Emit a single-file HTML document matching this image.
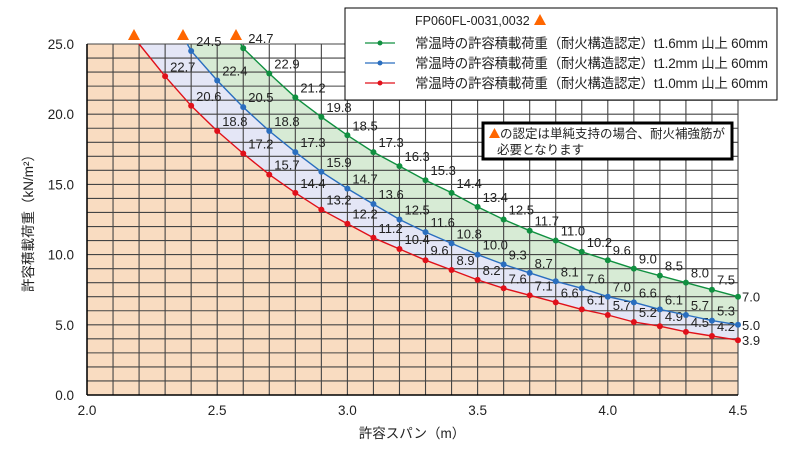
<!DOCTYPE html>
<html><head><meta charset="utf-8"><style>
html,body{margin:0;padding:0;background:#fff;}
svg{display:block;font-family:"Liberation Sans","Noto Sans CJK JP",sans-serif;}
</style></head><body>
<svg id="s" width="800" height="449" viewBox="0 0 800 449" xmlns="http://www.w3.org/2000/svg"></svg>
<script>
const X0=87,XS=260.4,Y0=395,YS=14.04;
const px=x=>X0+(x-2)*XS, py=y=>Y0-y*YS;
const red=[[2.2,25.0],[2.3,22.7],[2.4,20.6],[2.5,18.8],[2.6,17.2],[2.7,15.7],[2.8,14.4],[2.9,13.2],[3.0,12.2],[3.1,11.2],[3.2,10.4],[3.3,9.6],[3.4,8.9],[3.5,8.2],[3.6,7.6],[3.7,7.1],[3.8,6.6],[3.9,6.1],[4.0,5.7],[4.1,5.2],[4.2,4.9],[4.3,4.5],[4.4,4.2],[4.5,3.9]];
const blue=[[2.385,25.0],[2.4,24.5],[2.5,22.4],[2.6,20.5],[2.7,18.8],[2.8,17.3],[2.9,15.9],[3.0,14.7],[3.1,13.6],[3.2,12.5],[3.3,11.6],[3.4,10.8],[3.5,10.0],[3.6,9.3],[3.7,8.7],[3.8,8.1],[3.9,7.6],[4.0,7.0],[4.1,6.6],[4.2,6.1],[4.3,5.7],[4.4,5.3],[4.5,5.0]];
const green=[[2.59,25.0],[2.6,24.7],[2.7,22.9],[2.8,21.2],[2.9,19.8],[3.0,18.5],[3.1,17.3],[3.2,16.3],[3.3,15.3],[3.4,14.4],[3.5,13.4],[3.6,12.5],[3.7,11.7],[3.8,11.0],[3.9,10.2],[4.0,9.6],[4.1,9.0],[4.2,8.5],[4.3,8.0],[4.4,7.5],[4.5,7.0]];
let h='';
const pts=a=>a.map(p=>px(p[0]).toFixed(1)+','+py(p[1]).toFixed(1)).join(' ');
h+=`<polygon points="${px(2)},${py(25)} ${pts(red)} ${px(4.5)},${Y0} ${px(2)},${Y0}" fill="#f9dcc1"/>`;
h+=`<polygon points="${pts(red)} ${pts(blue.slice().reverse())}" fill="#e4e6f6"/>`;
h+=`<polygon points="${pts(blue)} ${pts(green.slice().reverse())}" fill="#d7ebd5"/>`;
for(let i=0;i<=25;i++){const x=px(2+i*0.1);h+=`<line x1="${x}" y1="${py(25)}" x2="${x}" y2="${Y0}" stroke="#444" stroke-width="1.1"/>`;}
for(let j=0;j<=25;j++){const y=py(j);h+=`<line x1="${X0}" y1="${y}" x2="${px(4.5)}" y2="${y}" stroke="#444" stroke-width="1.1"/>`;}
h+=`<line x1="${X0}" y1="${py(25)}" x2="${X0}" y2="${Y0}" stroke="#000" stroke-width="1.5"/>`;
h+=`<line x1="${X0}" y1="${Y0}" x2="${px(4.5)}" y2="${Y0}" stroke="#000" stroke-width="1.5"/>`;
const ser=(a,c)=>{h+=`<polyline points="${pts(a)}" fill="none" stroke="${c}" stroke-width="1.4"/>`;
 a.forEach((p,i)=>{if(i==0)return;const x=px(p[0]),y=py(p[1]);h+=`<circle cx="${x}" cy="${y}" r="3" fill="${c}"/>`;
 let tx=x+5,ty=y-5;if(p[0]==4.5){tx=x+4;ty=y+5;}
 h+=`<text x="${tx}" y="${ty}" font-size="13" fill="#222">${p[1].toFixed(1)}</text>`;});};
ser(red,'#e0101a');ser(blue,'#2a6ebf');ser(green,'#109040');
[134,183,236].forEach(x=>{h+=`<polygon points="${x-6},40 ${x+6},40 ${x},29" fill="#ff6600"/>`;});
for(let j=0;j<=25;j+=5){h+=`<text x="74" y="${py(j)+5}" font-size="13.5" text-anchor="end" fill="#222">${j.toFixed(1)}</text>`;}
for(let k=0;k<=5;k++){const v=2+k*0.5;h+=`<text x="${px(v)}" y="415" font-size="13.5" text-anchor="middle" fill="#222">${v.toFixed(1)}</text>`;}
h+=`<text x="412" y="438" font-size="13.5" text-anchor="middle" fill="#222">許容スパン（m）</text>`;
h+=`<text transform="translate(33,220) rotate(-90)" font-size="13.5" text-anchor="middle" fill="#222">許容積載荷重（kN/m²）</text>`;
h+=`<rect x="345" y="8" width="432" height="92" fill="#fff" stroke="#000" stroke-width="1"/>`;
h+=`<text x="415" y="25" font-size="12.5" fill="#222">FP060FL-0031,0032</text><polygon points="534,25 546,25 540,14" fill="#ff6600"/>`;
[['#109040','1.6'],['#2a6ebf','1.2'],['#e0101a','1.0']].forEach((l,i)=>{const y=43+i*20;
h+=`<line x1="365" y1="${y}" x2="395" y2="${y}" stroke="${l[0]}" stroke-width="1.3"/><circle cx="380" cy="${y}" r="2.5" fill="${l[0]}"/>`;
h+=`<text x="415" y="${y+5}" font-size="13.5" textLength="353" fill="#222">常温時の許容積載荷重（耐火構造認定）t${l[1]}mm 山上 60mm</text>`;});
h+=`<rect x="483" y="123" width="249" height="36" fill="#fff" stroke="#000" stroke-width="3"/>`;
h+=`<polygon points="489,138 500,138 494.5,128" fill="#ff6600"/>`;
h+=`<text x="500" y="138" font-size="12.5" fill="#222">の認定は単純支持の場合、耐火補強筋が</text>`;
h+=`<text x="497" y="154" font-size="12.5" fill="#222">必要となります</text>`;
document.getElementById('s').innerHTML=h;
</script>
</body></html>
